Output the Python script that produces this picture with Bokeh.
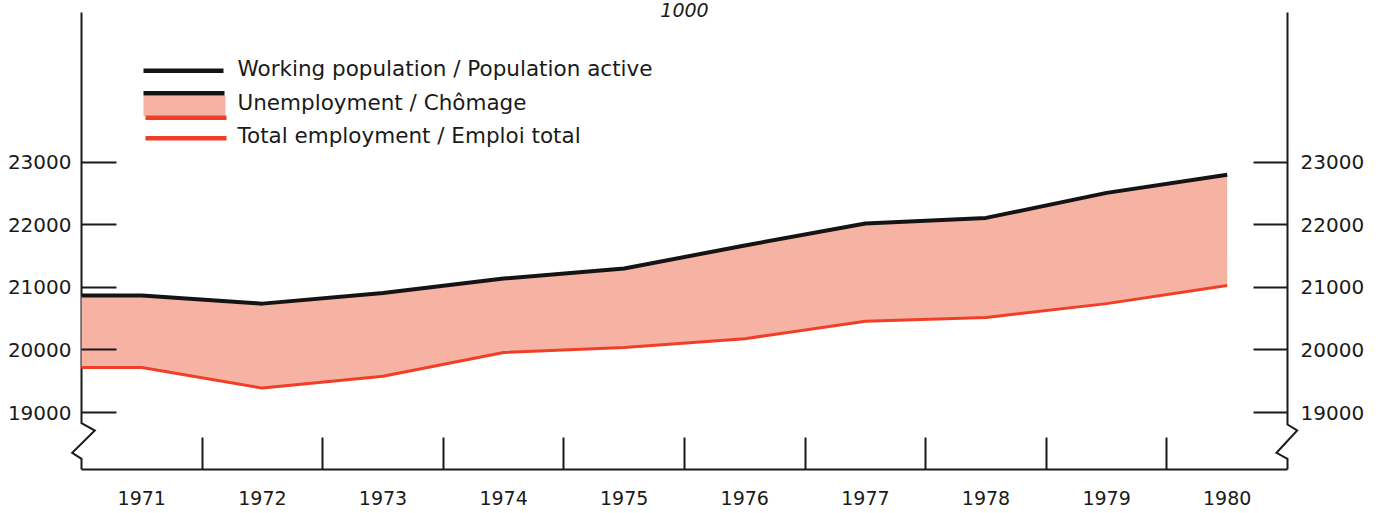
from bokeh.plotting import figure
from bokeh.models import FixedTicker, LinearAxis, Range1d, Label, ColumnDataSource
from bokeh.embed import file_html
from bokeh.resources import INLINE
from bokeh.core.properties import value

# ---------------- data ----------------
years = [1971, 1972, 1973, 1974, 1975, 1976, 1977, 1978, 1979, 1980]
working_population = [20870, 20740, 20910, 21140, 21300, 21670, 22020, 22110, 22510, 22800]
total_employment = [19720, 19390, 19580, 19960, 20040, 20180, 20460, 20520, 20740, 21030]
y_ticks = [19000, 20000, 21000, 22000, 23000]
unit_label = "1000"
legend_labels = [
    "Working population / Population active",
    "Unemployment / Chômage",
    "Total employment / Emploi total",
]

# ---------------- layout (image pixels) ----------------
W, H = 1386, 513
OFF = 0
AX_L, AX_R = 81.0, 1287.0
AX_TOP, AX_BOT = 12.0, 469.0
Y_REF_PX, Y_REF_VAL = 161.7, 23000
PX_PER_UNIT = 0.06258

X0, X1 = years[0] - 0.5, years[-1] + 0.5
PPY = (AX_R - AX_L) / (X1 - X0)


def dx(px):
    return X0 + (px - AX_L) / PPY


def dy(py):
    return Y_REF_VAL - (py - Y_REF_PX) / PX_PER_UNIT


FONT = "DejaVu Sans"
INK = "#1a1a1a"
BLACK = "#141414"
RED = "#f13f27"
PINK = "#f6b2a2"

p = figure(width=W, height=H,
           x_range=Range1d(dx(OFF), dx(OFF + W)),
           y_range=Range1d(dy(OFF + H), dy(OFF)),
           output_backend="svg", toolbar_location=None,
           x_axis_type=None, y_axis_type=None, min_border=0)
p.outline_line_color = None
p.background_fill_color = "white"
p.border_fill_color = "white"

# ---------------- axes ----------------
xb = dy(AX_BOT)
xaxis = LinearAxis(fixed_location=xb, bounds=(X0, X1),
                   ticker=FixedTicker(ticks=years, minor_ticks=[y + 0.5 for y in years[:-1]]))
xaxis.axis_line_width = 2
xaxis.axis_line_color = INK
xaxis.major_tick_line_color = None
xaxis.major_tick_in = 0
xaxis.major_tick_out = 0
xaxis.minor_tick_in = 32
xaxis.minor_tick_out = 0
xaxis.minor_tick_line_width = 2
xaxis.minor_tick_line_color = INK
xaxis.major_label_standoff = 21
xaxis.major_label_text_font = FONT
xaxis.major_label_text_font_size = "19px"
xaxis.major_label_text_color = INK
p.add_layout(xaxis, "below")

ytop = dy(AX_TOP)
for side, loc, tick_len, standoff in (("left", X0, 35, 10), ("right", X1, 34, 13)):
    ax = LinearAxis(fixed_location=loc, bounds=(xb, ytop),
                    ticker=FixedTicker(ticks=y_ticks, minor_ticks=[]))
    ax.axis_line_color = None
    ax.major_tick_in = tick_len
    ax.major_tick_out = 0
    ax.major_tick_line_width = 2
    ax.major_tick_line_color = INK
    ax.minor_tick_line_color = None
    ax.major_label_standoff = standoff
    ax.major_label_text_font = FONT
    ax.major_label_text_font_size = "20px"
    ax.major_label_text_color = INK
    p.add_layout(ax, side)

# axis lines with scale breaks
p.line([X0, X0, dx(94.3), dx(71.7), X0, X0],
       [ytop, dy(422.7), dy(430), dy(452.3), dy(458.3), xb],
       line_color=INK, line_width=2, line_join="miter")
p.line([X1, X1, dx(1296.7), dx(1276), X1, X1],
       [ytop, dy(424), dy(430), dy(452.3), dy(458.3), xb],
       line_color=INK, line_width=2, line_join="miter")

# ---------------- data marks ----------------
xs = [years[0] - 0.5] + years
wp = [working_population[0]] + working_population
te = [total_employment[0]] + total_employment

p.varea(x=xs, y1=te, y2=wp, fill_color=PINK, fill_alpha=1)
p.line(xs, te, line_color=RED, line_width=3, line_join="round")
p.line(xs, wp, line_color=BLACK, line_width=4, line_join="round")

# ---------------- legend ----------------
p.segment(x0=[dx(143)], y0=[dy(70.3)], x1=[dx(223)], y1=[dy(70.3)], line_color=BLACK, line_width=4.5)
p.quad(left=[dx(143)], right=[dx(225)], top=[dy(95)], bottom=[dy(115.5)], fill_color=PINK, line_color=None)
p.segment(x0=[dx(143)], y0=[dy(92.7)], x1=[dx(224)], y1=[dy(92.7)], line_color=BLACK, line_width=4.5)
p.segment(x0=[dx(145)], y0=[dy(117.3)], x1=[dx(226)], y1=[dy(117.3)], line_color=RED, line_width=4.5)
p.segment(x0=[dx(145)], y0=[dy(137.7)], x1=[dx(226)], y1=[dy(137.7)], line_color=RED, line_width=4.5)

leg_src = ColumnDataSource(dict(x=[dx(237)] * 3, y=[dy(68), dy(102), dy(135)], text=legend_labels))
p.text(x="x", y="y", text="text", source=leg_src, text_font=value(FONT),
       text_font_size="21.5px", text_color=INK, text_baseline="alphabetic", text_align="left")

p.add_layout(Label(x=(X0 + X1) / 2, y=dy(9), text=unit_label, text_font=FONT,
                   text_font_size="19px", text_font_style="italic", text_color=INK,
                   text_align="center", text_baseline="alphabetic"))

open("out.html", "w").write(file_html(p, INLINE))
